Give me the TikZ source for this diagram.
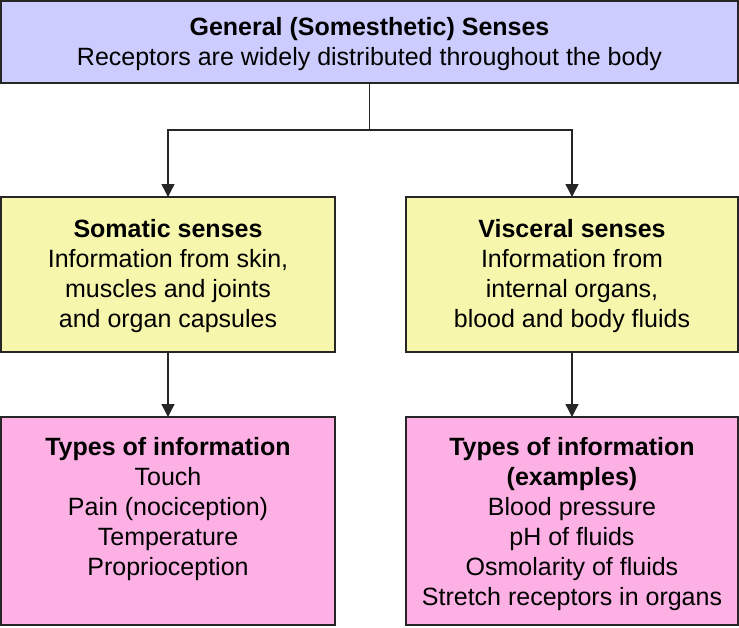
\documentclass[tikz,border=0pt]{standalone}
\usepackage{fontspec}
\setmainfont{Liberation Sans}
\usetikzlibrary{arrows.meta}
\definecolor{topfill}{RGB}{204,204,255}
\definecolor{yelfill}{RGB}{246,246,172}
\definecolor{pinkfill}{RGB}{252,176,228}
\begin{document}
\begin{tikzpicture}[x=1pt,y=-1pt,
  box/.style={draw=black!85, line width=1.4pt, inner sep=0pt, outer sep=0pt, anchor=north west},
  txt/.style={align=center, inner sep=0pt, anchor=base, font=\fontsize{25}{30}\selectfont},
  conn/.style={draw=black!85, line width=1.4pt, -{Triangle[width=13pt,length=13pt]}}]
\useasboundingbox (0,0) rectangle (739,627);
\node[box, fill=topfill, minimum width=737pt, minimum height=82pt] (top) at (1,1) {};
\node[box, fill=yelfill, minimum width=334pt, minimum height=155pt] (ysl) at (1,197) {};
\node[box, fill=yelfill, minimum width=332pt, minimum height=155pt] (ysr) at (406,197) {};
\node[box, fill=pinkfill, minimum width=334pt, minimum height=208pt] (psl) at (1,417) {};
\node[box, fill=pinkfill, minimum width=332pt, minimum height=208pt] (psr) at (406,417) {};
\node[txt] (ttop) at (369.5,65) {\textbf{General (Somesthetic) Senses}\\Receptors are widely distributed throughout the body};
\node[txt] (tysl) at (168,327) {\textbf{Somatic senses}\\Information from skin,\\muscles and joints\\and organ capsules};
\node[txt] (tysr) at (572,327) {\textbf{Visceral senses}\\Information from\\internal organs,\\blood and body fluids};
\node[txt] (tpsl) at (168,575) {\textbf{Types of information}\\Touch\\Pain (nociception)\\Temperature\\Proprioception};
\node[txt] (tpsr) at (572,605) {\textbf{Types of information}\\\textbf{(examples)}\\Blood pressure\\pH of fluids\\Osmolarity of fluids\\Stretch receptors in organs};
\coordinate (split) at ([yshift=-47pt]top.south);
\draw[conn] (top.south) -- (split) -| (ysl.north);
\draw[conn] (split) -| (ysr.north);
\draw[conn] (ysl.south) -- (psl.north);
\draw[conn] (ysr.south) -- (psr.north);
\end{tikzpicture}
\end{document}
